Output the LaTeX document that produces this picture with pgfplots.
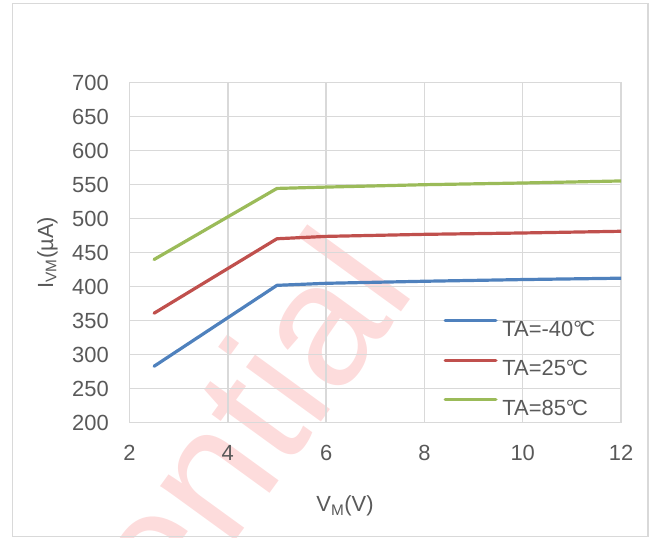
\documentclass[border=0pt]{standalone}
\usepackage{pgfplots}
\pgfplotsset{compat=1.18}
\usepackage{fontspec}
\setmainfont{Liberation Sans}
\definecolor{tc}{HTML}{595959}
\definecolor{gr}{HTML}{D9D9D9}
\definecolor{c1}{HTML}{4F81BD}
\definecolor{c2}{HTML}{C0504D}
\definecolor{c3}{HTML}{9BBB59}
\definecolor{wm}{HTML}{FDDCDC}
\newcommand{\bigf}{\fontsize{22}{26}\selectfont}
\newcommand{\degC}{°\kern-0.12em C}
\begin{document}
\bigf
\begin{tikzpicture}
\useasboundingbox (-129.5bp,-115.3bp) rectangle (529.5bp,422.7bp);
\begin{scope}
\clip (-129.5bp,-115.3bp) rectangle (529.5bp,422.7bp);
\node[rotate=54, anchor=base east, text=wm, font=\fontsize{176}{180}\selectfont, inner sep=0pt] at (288bp,133bp) {Confidential};
\end{scope}
\draw[gr, line width=1.5bp] (-117bp,-113.8bp) rectangle (518.5bp,419.2bp);
\begin{axis}[
  at={(0,0)}, anchor=south west,
  scale only axis, width=491.5bp, height=340bp,
  xmin=2, xmax=12, ymin=200, ymax=700,
  xtick={2,4,6,8,10,12}, ytick={200,250,300,350,400,450,500,550,600,650,700},
  grid=major, major grid style={gr, line width=1.5bp},
  axis line style={gr, line width=1.5bp},
  major tick length=0pt, tick style={draw=none},
  /pgf/number format/assume math mode=true,
  ticklabel style={font=\bigf, text=tc},
  xticklabel style={anchor=north, inner sep=0pt, yshift=-22.3bp},
  yticklabel style={anchor=east, inner sep=0pt, xshift=-20.5bp},
  xlabel={V\textsubscript{M}(V)},
  xlabel style={at={(axis description cs:0.4385,-0.2626)}, anchor=base, text=tc, inner sep=0pt, font=\bigf},
  ylabel={I\textsubscript{VM}(µA)},
  ylabel style={at={(axis description cs:-0.1556,0.5)}, anchor=base, text=tc, inner sep=0pt, font=\bigf},
  legend cell align=left,
  legend style={draw=none, fill=none, at={(axis cs:8.385,353.4)}, anchor=north west,
    inner xsep=0pt, inner ysep=0pt, row sep=19.5bp, column sep=4.9bp,
    font=\bigf, text=tc,
    nodes={inner sep=0pt, text height=15.8bp, text depth=0pt}},
  legend image code/.code={\path[draw=none,fill=none] (0bp,-10bp) rectangle (54bp,10bp); \draw[#1, line cap=round] (1.6bp,7.7bp)--(52.4bp,7.7bp);},
]
\addplot[c1, line width=3.2bp, line join=round, line cap=round] coordinates {(2.5,283) (5,402) (6,405) (8,408) (10,410.5) (12,412.5)};
\addlegendentry{TA=-40\degC}
\addplot[c2, line width=3.2bp, line join=round, line cap=round] coordinates {(2.5,361) (5,470.5) (6,474) (8,477) (10,479) (12,481.5)};
\addlegendentry{TA=25\degC}
\addplot[c3, line width=3.2bp, line join=round, line cap=round] coordinates {(2.5,440) (5,544.5) (6,546.5) (8,550) (10,552.5) (12,555.5)};
\addlegendentry{TA=85\degC}
\end{axis}
\end{tikzpicture}
\end{document}
